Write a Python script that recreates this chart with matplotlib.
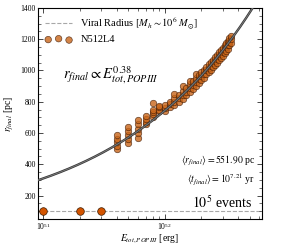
import numpy as np
import matplotlib
matplotlib.use("Agg")
import matplotlib.pyplot as plt
from matplotlib.ticker import AutoMinorLocator, LogLocator, NullFormatter

plt.rcParams['font.family'] = 'serif'
plt.rcParams['font.serif'] = ['Liberation Serif', 'DejaVu Serif']
plt.rcParams['mathtext.fontset'] = 'stix'

# energies in units of 1e51 erg and the final radii
escape_n = [4, 5, 6, 7, 8, 9, 10, 11, 12, 13, 14, 15, 16, 17, 18, 19, 20,
            21, 22, 23, 24, 25, 26, 27, 28, 29, 30, 31, 32, 33, 34, 35]
escape_r = [
    [500, 520, 540, 560, 585],
    [535, 560, 585, 610, 640],
    [570, 600, 625, 655, 680],
    [655, 672, 690, 708],
    [705, 720, 735, 750, 790],
    [738, 750, 765, 775],
    [740, 760, 780],
    [765, 785, 800],
    [780, 800, 825, 850],
    [800, 825, 845],
    [820, 845, 870, 900],
    [840, 865, 890],
    [860, 885, 915, 930],
    [880, 905, 930],
    [900, 925, 955, 975],
    [920, 945, 970],
    [940, 965, 990],
    [955, 980, 1005],
    [975, 1000, 1020],
    [990, 1015, 1040],
    [1005, 1030, 1055],
    [1020, 1045, 1070],
    [1035, 1060, 1085],
    [1050, 1075, 1100],
    [1065, 1090, 1115],
    [1080, 1105, 1130],
    [1095, 1120, 1145],
    [1110, 1135, 1160],
    [1125, 1150, 1175],
    [1140, 1165, 1190],
    [1160, 1185, 1210],
    [1175, 1200, 1220],
]
bound_n = [1, 2, 3]
bound_r = [104, 104, 104]

viral_radius = 104
fit_norm = 310.0     # pc at 1e51 erg
fit_slope = 0.38

E_unit = 1e51
xs, ys = [], []
for n, rs in zip(escape_n, escape_r):
    for r in rs:
        xs.append(n * E_unit)
        ys.append(r)

fig = plt.figure(figsize=(2.81, 2.44), dpi=100)
ax = fig.add_axes([0.135, 0.1025, 0.797, 0.865])

ax.axhline(viral_radius, ls='--', color='#a8a8a8', lw=0.8, zorder=1,
           label=r'Viral Radius $[M_h \sim 10^6\ M_{\odot}]$')
ax.scatter(xs, ys, s=22, c='#c9661a', edgecolors='#3a1500', linewidths=0.45,
           alpha=0.8, zorder=2, label='N512L4')
ax.scatter(np.array(bound_n) * E_unit, bound_r, s=30, c='#d35400',
           edgecolors='#3a1a00', linewidths=0.5, zorder=3)

Efit = np.logspace(50.9, 52.9, 200)
ax.plot(Efit, fit_norm * (Efit / E_unit) ** fit_slope, color='#333333', lw=1.7, zorder=4)
ax.plot(Efit, fit_norm * (Efit / E_unit) ** fit_slope, color='#7a7a7a', lw=0.7, zorder=5)

ax.set_xscale('log')
ax.set_xlim(9e50, 6.3e52)
ax.set_ylim(50, 1400)
ax.set_yticks([200, 400, 600, 800, 1000, 1200, 1400])
ax.yaxis.set_minor_locator(AutoMinorLocator(4))
ax.xaxis.set_minor_locator(LogLocator(base=10, subs=np.arange(2, 10)))
ax.xaxis.set_minor_formatter(NullFormatter())
ax.tick_params(which='both', direction='in', top=True, right=True, labelsize=5.5, pad=1.5)
ax.tick_params(which='major', length=3.5, width=0.5)
ax.tick_params(which='minor', length=2, width=0.4)
for sp in ax.spines.values():
    sp.set_linewidth(0.8)

ax.set_xlabel(r'$E_{tot,POPIII}$ [erg]', fontsize=7, labelpad=0)
ax.set_ylabel(r'$r_{final}$ [pc]', fontsize=7, labelpad=3)

ax.text(0.11, 0.68, r'$r_{final} \propto E_{tot,POPIII}^{0.38}$', transform=ax.transAxes,
        fontsize=10.5, va='center', ha='left')
ax.text(0.97, 0.28, r'$\left\langle r_{final} \right\rangle = 551.90$ pc', transform=ax.transAxes,
        fontsize=7, ha='right', va='center')
ax.text(0.97, 0.19, r'$\left\langle t_{final} \right\rangle = 10^{7.21}$ yr', transform=ax.transAxes,
        fontsize=7, ha='right', va='center')
ax.text(0.955, 0.075, r'$10^5$ events', transform=ax.transAxes,
        fontsize=10, ha='right', va='center')

ax.legend(loc='upper left', bbox_to_anchor=(-0.01, 1.01), frameon=False, fontsize=7.5,
          scatterpoints=3, handlelength=2.6, handletextpad=0.8, labelspacing=0.4)

fig.savefig('out.png', dpi=100)
